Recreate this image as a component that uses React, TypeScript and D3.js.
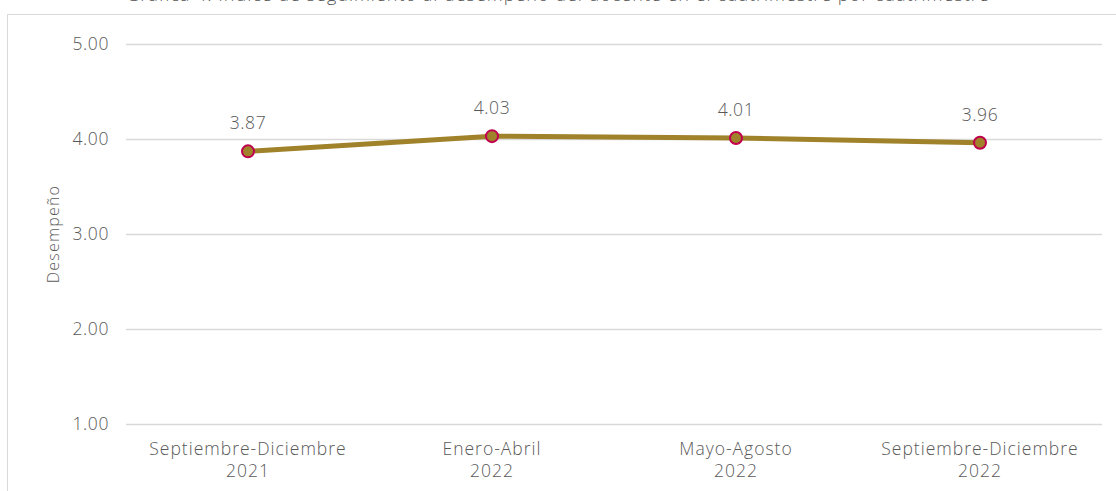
import React, { useEffect, useRef } from "react";
import * as d3 from "d3";

const periods = [
    ["Septiembre-Diciembre", "2021"],
    ["Enero-Abril", "2022"],
    ["Mayo-Agosto", "2022"],
    ["Septiembre-Diciembre", "2022"],
];
const scores = [3.87, 4.03, 4.01, 3.96];
const yTicks = [1, 2, 3, 4, 5];
const title = "Gráfica 4. Índice de seguimiento al desempeño del docente en el cuatrimestre por cuatrimestre";
const yTitle = "Desempeño";

const App: React.FC = () => {
    const svgRef = useRef<SVGSVGElement>(null);
    const width = 1116;
    const height = 491;

    useEffect(() => {
        if (!svgRef.current) return;
        const marginTop = 44;
        const marginRight = 14;
        const marginBottom = 67;
        const marginLeft = 126;
        const font = "'Open Sans', sans-serif";
        const textColor = "#595959";
        const fs = 17.5;
        const ls = 1;

        const svg = d3.select(svgRef.current);
        svg.selectAll("*").remove();

        // chart frame, runs past the picture on the right and bottom
        svg.append("rect")
            .attr("x", 7.5)
            .attr("y", 14.5)
            .attr("width", width + 20)
            .attr("height", height + 20)
            .attr("fill", "#fff")
            .attr("stroke", "#d9d9d9")
            .attr("stroke-width", 1);

        // title sits mostly above the picture, only its descenders show
        svg.append("text")
            .attr("x", 558)
            .attr("y", 1)
            .attr("text-anchor", "middle")
            .attr("font-family", font)
            .attr("font-size", 18)
            .attr("font-weight", 300)
            .attr("letter-spacing", ls)
            .attr("fill", textColor)
            .text(title);

        const x = d3.scaleBand<number>()
            .domain(d3.range(scores.length))
            .range([marginLeft, width - marginRight]);

        const y = d3.scaleLinear()
            .domain([1, 5])
            .range([height - marginBottom, marginTop]);

        // gridlines + y labels
        const yAxis = svg.append("g")
            .attr("transform", `translate(${marginLeft},0)`)
            .call(
                d3.axisLeft(y)
                    .tickValues(yTicks)
                    .tickFormat(d3.format(".2f"))
                    .tickSize(0)
                    .tickPadding(17)
            );
        yAxis.select(".domain").remove();
        yAxis.selectAll(".tick line").clone()
            .attr("x2", width - marginLeft - marginRight)
            .attr("stroke", "#d9d9d9")
            .attr("stroke-width", 1.5);
        yAxis.selectAll(".tick text")
            .attr("font-family", font)
            .attr("font-size", fs)
            .attr("font-weight", 300)
            .attr("letter-spacing", 0.6)
            .attr("fill", textColor);

        svg.append("text")
            .attr("transform", `translate(59,${y(3)}) rotate(-90)`)
            .attr("text-anchor", "middle")
            .attr("font-family", font)
            .attr("font-size", 16)
            .attr("font-weight", 300)
            .attr("letter-spacing", 1.2)
            .attr("fill", textColor)
            .text(yTitle);

        const cx = (i: number) => x(i)! + x.bandwidth() / 2;

        // category labels, two lines each
        const xLabels = svg.append("g")
            .selectAll("text")
            .data(periods)
            .join("text")
            .attr("x", (_, i) => cx(i))
            .attr("y", height - marginBottom + 31)
            .attr("text-anchor", "middle")
            .attr("font-family", font)
            .attr("font-size", fs)
            .attr("font-weight", 300)
            .attr("letter-spacing", ls)
            .attr("fill", textColor);
        xLabels.append("tspan").text((d) => d[0]);
        xLabels.append("tspan")
            .attr("x", (_, i) => cx(i))
            .attr("dy", 22)
            .text((d) => d[1]);

        const line = d3.line<number>()
            .x((_, i) => cx(i))
            .y((d) => y(d));

        svg.append("path")
            .datum(scores)
            .attr("fill", "none")
            .attr("stroke", "#a0822a")
            .attr("stroke-width", 5)
            .attr("stroke-linejoin", "round")
            .attr("d", line);

        svg.append("g")
            .selectAll("circle")
            .data(scores)
            .join("circle")
            .attr("cx", (_, i) => cx(i))
            .attr("cy", (d) => y(d))
            .attr("r", 6)
            .attr("fill", "#a0822a")
            .attr("stroke", "#c0004e")
            .attr("stroke-width", 2);

        svg.append("g")
            .selectAll("text")
            .data(scores)
            .join("text")
            .attr("x", (_, i) => cx(i))
            .attr("y", (d) => y(d) - 22)
            .attr("text-anchor", "middle")
            .attr("font-family", font)
            .attr("font-size", fs)
            .attr("font-weight", 300)
            .attr("letter-spacing", 0.6)
            .attr("fill", textColor)
            .text((d) => d.toFixed(2));
    }, []);

    return (
        <svg
            ref={svgRef}
            width={width}
            height={height}
            style={{ position: "absolute", left: 0, top: 0, overflow: "hidden" }}
        />
    );
};

export default App;
